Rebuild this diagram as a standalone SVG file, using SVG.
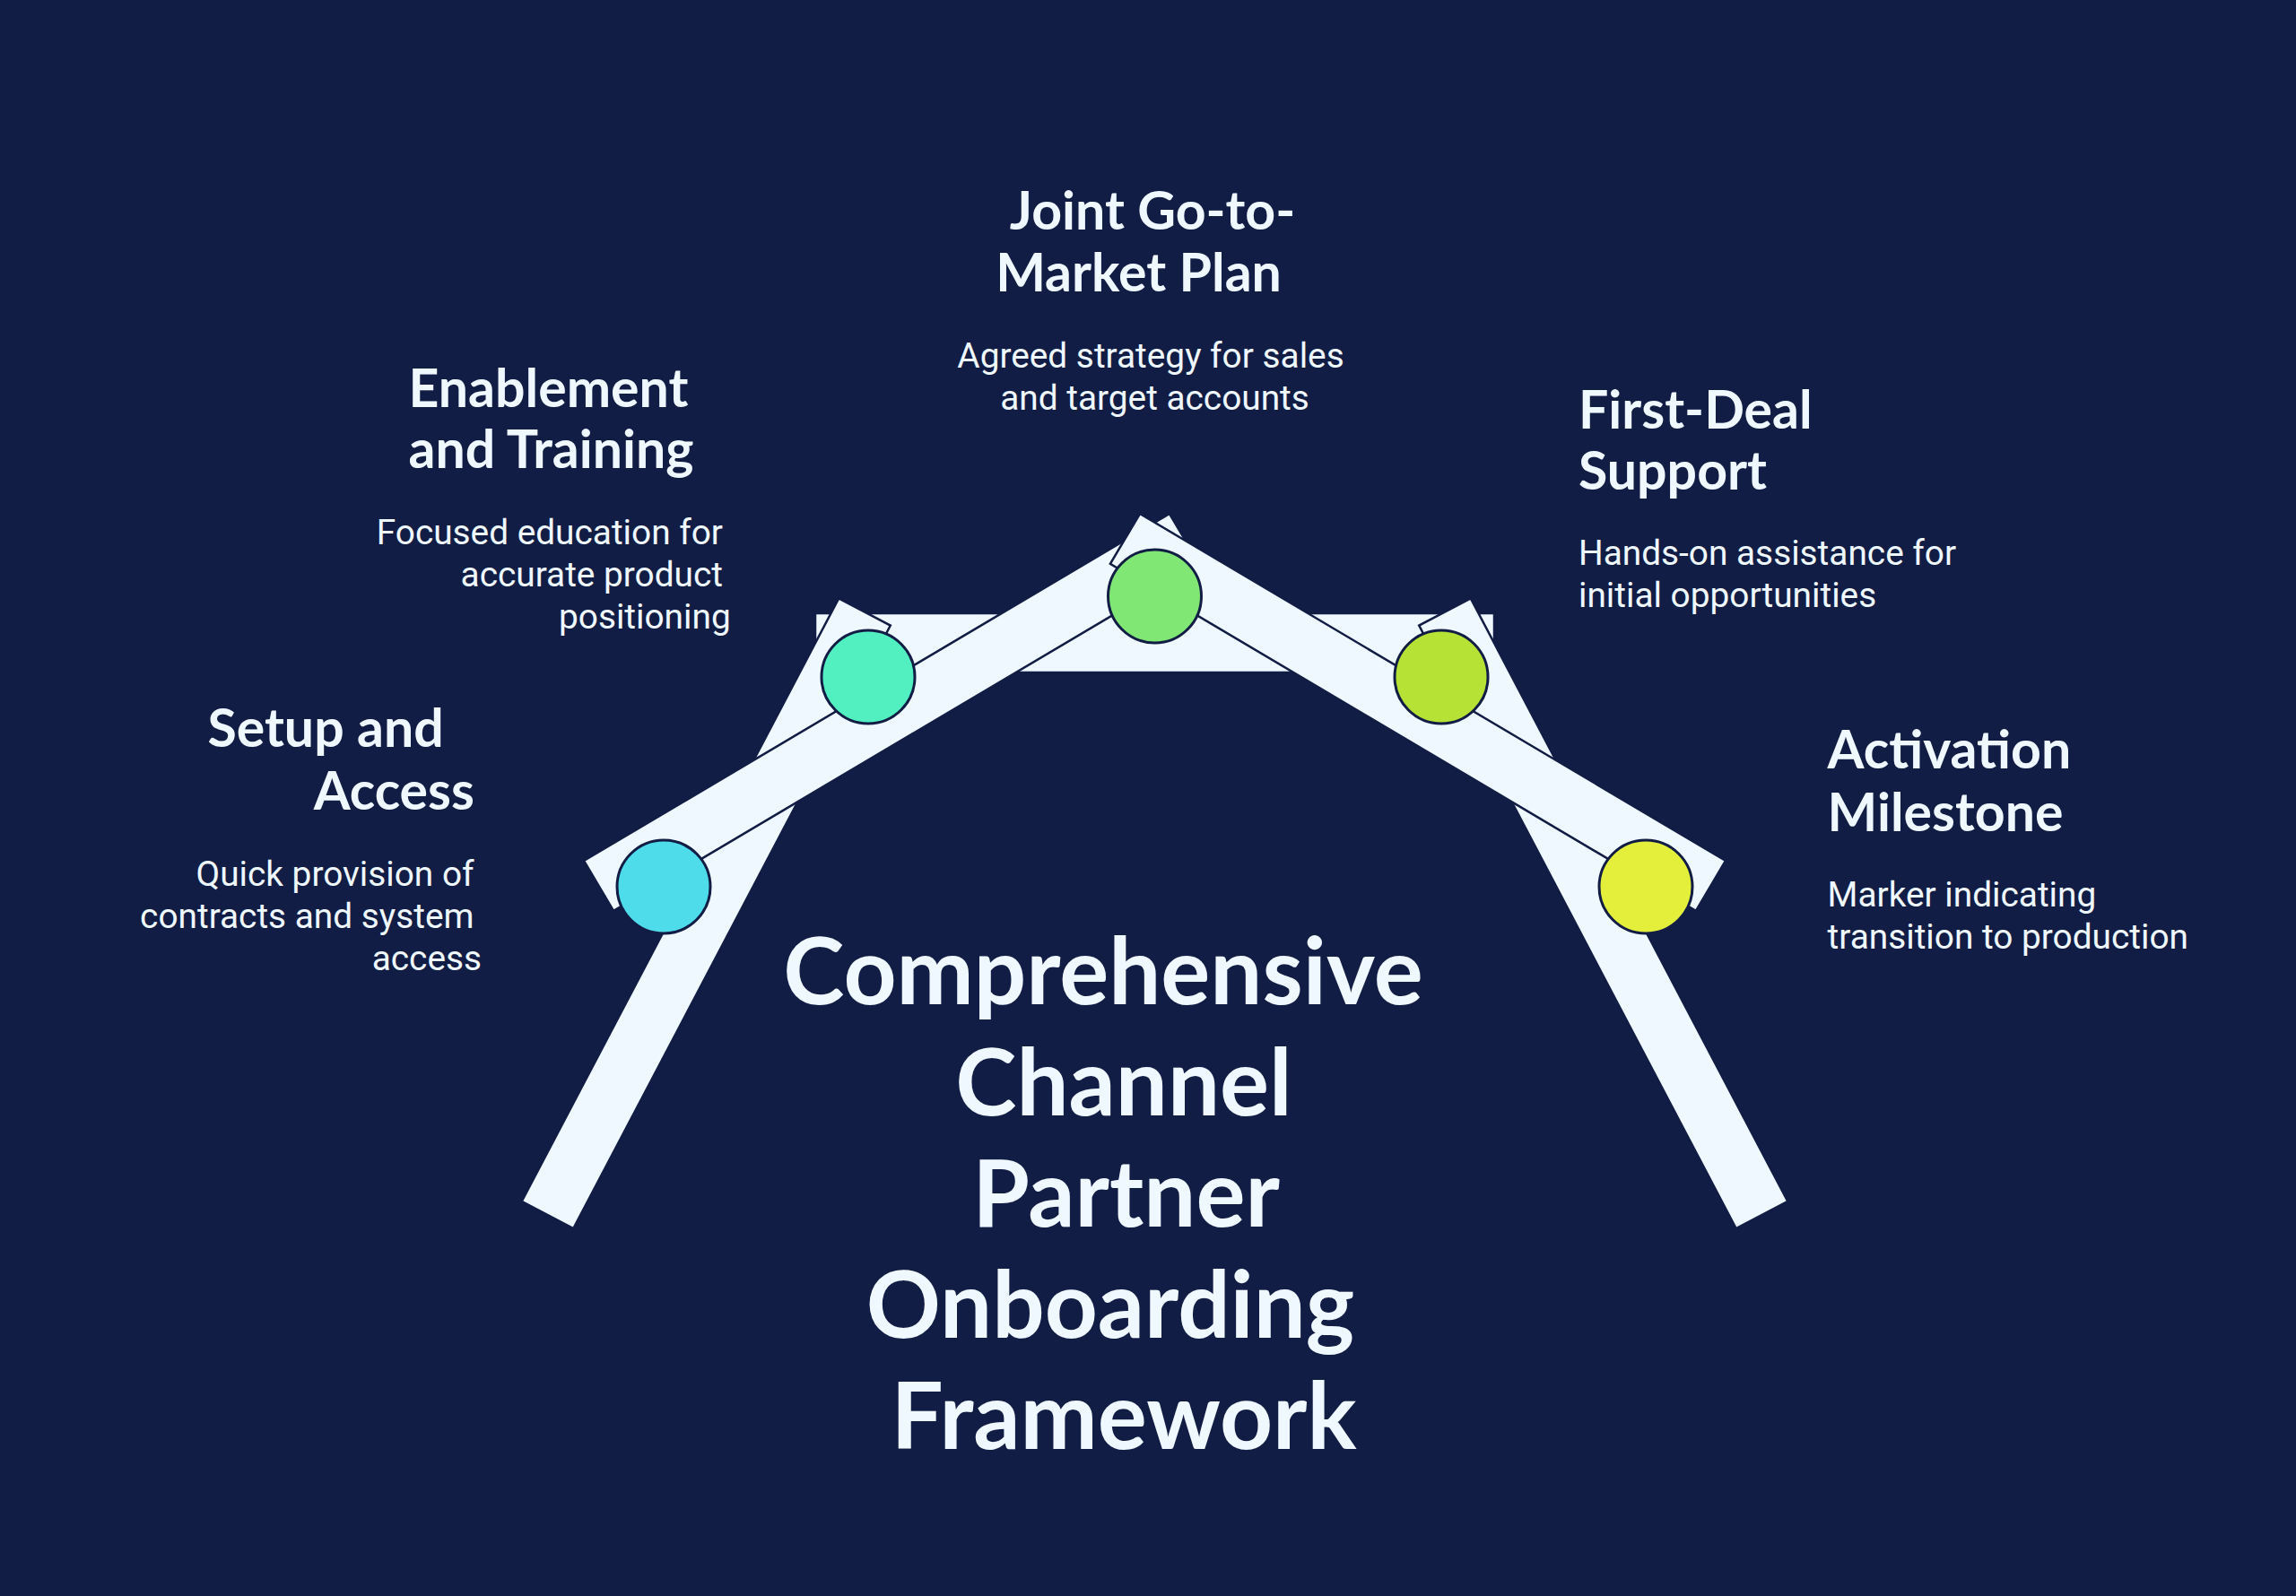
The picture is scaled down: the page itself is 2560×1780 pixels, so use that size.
<svg xmlns="http://www.w3.org/2000/svg" width="2560" height="1780" viewBox="0 0 2560 1780">
<style>
.bg{fill:#121D45}
.frame{fill:#F0F8FF;stroke:#121D45;stroke-width:2.5;stroke-linejoin:miter}
.dot{stroke:#121D45;stroke-width:3}
.title{font-family:Lato,"Noto Sans",sans-serif;font-weight:700;font-size:103px;fill:#F0F8FF;text-anchor:middle}
.head{font-family:Lato,"Noto Sans",sans-serif;font-weight:700;font-size:59px;fill:#F0F8FF}
.desc{font-family:Roboto,"Noto Sans",sans-serif;font-size:38.8px;fill:#F0F8FF}
.end{text-anchor:end}
.mid{text-anchor:middle}
</style>
<rect class="bg" x="0" y="0" width="2560" height="1780"/>
<g id="frame">
<rect class="frame" x="909" y="684" width="757" height="66"/>
<polygon class="frame" points="581.7,1339.9 639.3,1370.1 992.8,697.6 935.2,667.4"/>
<polygon class="frame" points="1993.3,1339.9 1935.7,1370.1 1582.2,697.6 1639.8,667.4"/>
<polygon class="frame" points="651,960 1304,573 1337.1,628.9 684.1,1015.9"/>
<polygon class="frame" points="1924,960 1271,573 1237.9,628.9 1890.9,1015.9"/>
</g>
<g id="connectors"></g>
<g id="node-setup">
<circle class="dot" cx="740" cy="989" r="52" fill="#4EDBEA"/>
<text class="head end" x="494.7" y="833">Setup and</text>
<text class="head end" x="529" y="903">Access</text>
<text class="desc end" x="528.5" y="988">Quick provision of</text>
<text class="desc end" x="528.5" y="1035">contracts and system</text>
<text class="desc end" x="537" y="1082">access</text>
</g>
<g id="node-enablement">
<circle class="dot" cx="968" cy="755" r="52" fill="#52EFC0"/>
<text class="head" x="455.5" y="454">Enablement</text>
<text class="head" x="455.5" y="522">and Training</text>
<text class="desc end" x="806" y="607">Focused education for</text>
<text class="desc end" x="806" y="654">accurate product</text>
<text class="desc end" x="814.7" y="701">positioning</text>
</g>
<g id="node-gtm">
<circle class="dot" cx="1287.5" cy="665" r="52" fill="#80E674"/>
<text class="head mid" x="1285" y="256">Joint Go-to-</text>
<text class="head mid" x="1269.5" y="325">Market Plan</text>
<text class="desc mid" x="1283" y="410">Agreed strategy for sales</text>
<text class="desc mid" x="1287.5" y="457">and target accounts</text>
</g>
<g id="node-firstdeal">
<circle class="dot" cx="1607" cy="755" r="52" fill="#B5E234"/>
<text class="head" x="1760" y="478">First-Deal</text>
<text class="head" x="1760" y="546">Support</text>
<text class="desc" x="1760" y="630">Hands-on assistance for</text>
<text class="desc" x="1760" y="677">initial opportunities</text>
</g>
<g id="node-activation">
<circle class="dot" cx="1835" cy="989" r="52" fill="#E3EF3B"/>
<text class="head" x="2037.6" y="857">Activation</text>
<text class="head" x="2037.6" y="927">Milestone</text>
<text class="desc" x="2037.6" y="1011">Marker indicating</text>
<text class="desc" x="2037.6" y="1058">transition to production</text>
</g>
<g id="title">
<text class="title" x="1230" y="1120">Comprehensive</text>
<text class="title" x="1253" y="1244">Channel</text>
<text class="title" x="1255.5" y="1368">Partner</text>
<text class="title" x="1238" y="1492">Onboarding</text>
<text class="title" x="1253" y="1616">Framework</text>
</g>
</svg>
